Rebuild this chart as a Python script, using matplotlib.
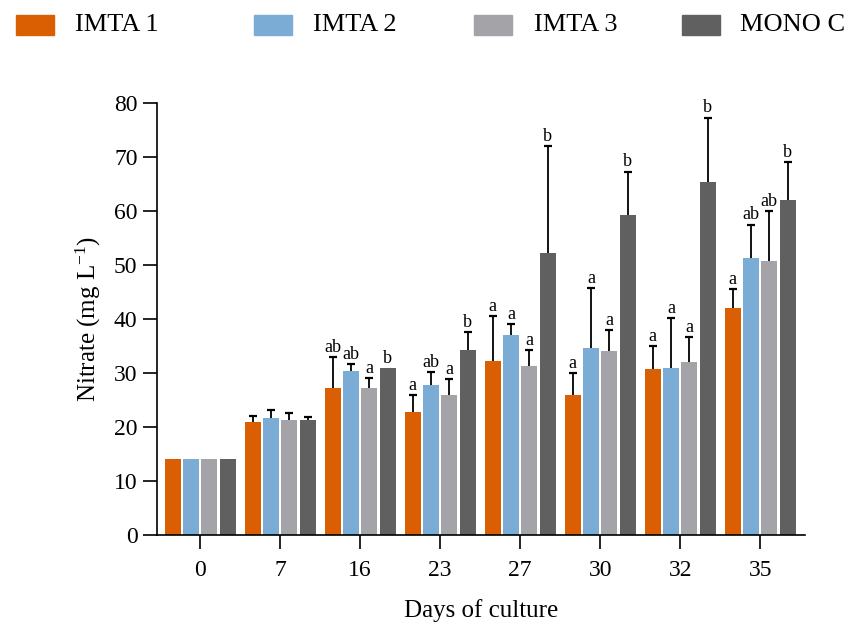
import numpy as np
import matplotlib
matplotlib.use("Agg")
import matplotlib.pyplot as plt
from matplotlib.patches import Rectangle

plt.rcParams['font.family'] = ['Liberation Serif', 'DejaVu Serif']
plt.rcParams['mathtext.default'] = 'regular'

# datos
dias = ['0', '7', '16', '23', '27', '30', '32', '35']
series = ['IMTA 1', 'IMTA 2', 'IMTA 3', 'MONO C']
colores = ['#D95F02', '#7BACD6', '#A3A3A8', '#606060']

imta1 = [14.0, 21.0, 27.2, 22.7, 32.2, 26.0, 30.8, 42.0]
imta2 = [14.0, 21.6, 30.4, 27.8, 37.0, 34.7, 31.0, 51.3]
imta3 = [14.0, 21.3, 27.2, 26.0, 31.3, 34.0, 32.0, 50.7]
mono = [14.0, 21.3, 31.0, 34.3, 52.3, 59.3, 65.3, 62.0]

err1 = [0.0, 1.0, 5.7, 3.2, 8.4, 4.0, 4.2, 3.5]
err2 = [0.0, 1.6, 1.2, 2.3, 2.0, 11.0, 9.2, 6.2]
err3 = [0.0, 1.3, 1.8, 2.8, 3.0, 4.0, 4.7, 9.3]
err4 = [0.0, 0.6, 0.0, 3.3, 19.7, 8.0, 12.0, 7.0]

letras1 = ['', '', 'ab', 'a', 'a', 'a', 'a', 'a']
letras2 = ['', '', 'ab', 'ab', 'a', 'a', 'a', 'ab']
letras3 = ['', '', 'a', 'a', 'a', 'a', 'a', 'ab']
letras4 = ['', '', 'b', 'b', 'b', 'b', 'b', 'b']

valores = [imta1, imta2, imta3, mono]
errores = [err1, err2, err3, err4]
letras = [letras1, letras2, letras3, letras4]

fig = plt.figure(figsize=(8.51, 6.27), dpi=100)
ax = fig.add_axes([157 / 851, 1 - 535 / 627, (805 - 157) / 851, (535 - 103) / 627])

x = np.arange(len(dias))
paso = 0.229
ancho = 0.2
for i in range(4):
    pos = x + (i - 1.5) * paso
    ax.bar(pos, valores[i], width=ancho, color=colores[i], zorder=2)
    v = np.array(valores[i])
    e = np.array(errores[i])
    hay = e > 0
    _, caps, _ = ax.errorbar(pos[hay], v[hay], yerr=[np.zeros(hay.sum()), e[hay]],
                             fmt='none', ecolor='black', elinewidth=1.3, capsize=3,
                             capthick=1.6, zorder=3)
    caps[0].set_visible(False)  # solo el cap superior
    for j in range(len(dias)):
        if letras[i][j]:
            ax.text(pos[j], v[j] + e[j] + 0.2, letras[i][j],
                    ha='center', va='bottom', fontsize=13, zorder=4)

ax.set_xlim(-0.54, 7.56)
ax.set_ylim(0, 80)
ax.set_yticks(np.arange(0, 81, 10))
ax.set_xticks(x)
ax.set_xticklabels(dias)

for lado in ['top', 'right']:
    ax.spines[lado].set_visible(False)
for lado in ['left', 'bottom']:
    ax.spines[lado].set_linewidth(1.2)
ax.tick_params(axis='both', length=10, width=1.2, labelsize=17, pad=4)
ax.tick_params(axis='x', pad=8)

ax.set_ylabel('Nitrate (mg L$^{-1}$)', fontsize=18, labelpad=8)
ax.set_xlabel('Days of culture', fontsize=18, labelpad=13)

# leyenda manual arriba
cuadros_x = [16, 254, 474, 682]
textos_x = [75, 313, 534, 740]
for i in range(4):
    fig.patches.append(Rectangle((cuadros_x[i] / 851, 1 - 35 / 627), 38 / 851, 20 / 627,
                                 transform=fig.transFigure, color=colores[i]))
    fig.text(textos_x[i] / 851, 1 - 25 / 627, series[i], fontsize=19,
             ha='left', va='center')

fig.savefig('out.png', dpi=100)
